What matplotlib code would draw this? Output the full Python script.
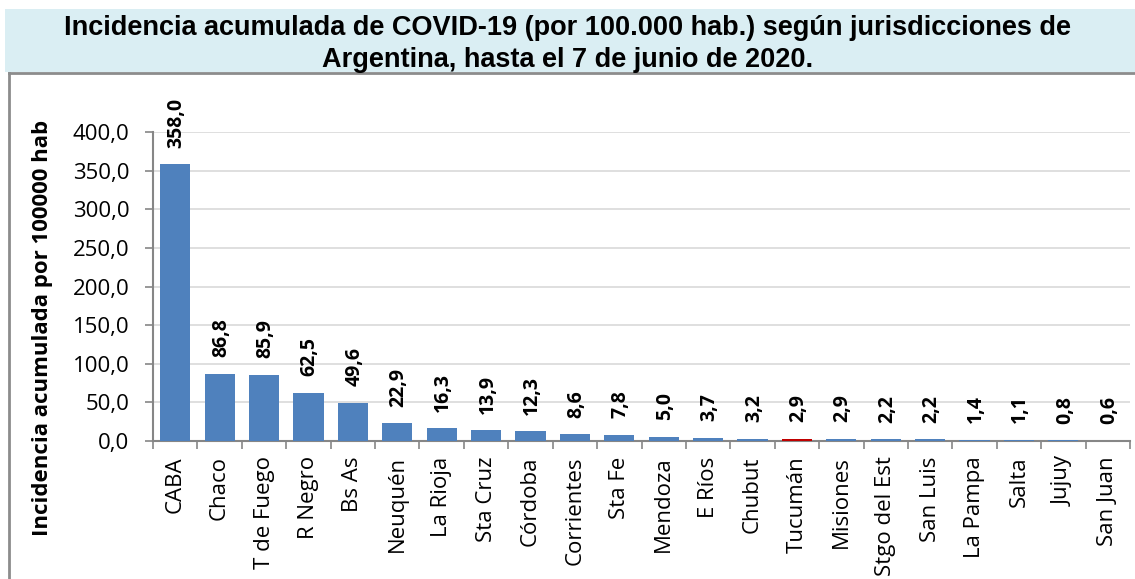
import matplotlib.pyplot as plt
from matplotlib.patches import Rectangle
import numpy as np

categories = ['CABA', 'Chaco', 'T de Fuego', 'R Negro', 'Bs As', 'Neuquén', 'La Rioja',
              'Sta Cruz', 'Córdoba', 'Corrientes', 'Sta Fe', 'Mendoza', 'E Ríos', 'Chubut',
              'Tucumán', 'Misiones', 'Stgo del Est', 'San Luis', 'La Pampa', 'Salta',
              'Jujuy', 'San Juan']
values = [358.0, 86.8, 85.9, 62.5, 49.6, 22.9, 16.3, 13.9, 12.3, 8.6, 7.8, 5.0, 3.7, 3.2,
          2.9, 2.9, 2.2, 2.2, 1.4, 1.1, 0.8, 0.6]
highlight = 'Tucumán'
yticks = [0, 50, 100, 150, 200, 250, 300, 350, 400]

W, H = 1135, 579
fig = plt.figure(figsize=(W / 100, H / 100), dpi=100)
fig.patch.set_facecolor('white')

# banda del titulo
fig.patches.append(Rectangle((5 / W, 1 - 72 / H), 1 - 5 / W, 63 / H, transform=fig.transFigure,
                             facecolor='#daeef3', edgecolor='none', zorder=0))
# marco del grafico
fig.add_artist(plt.Line2D([9 / W, 1], [1 - 73 / H, 1 - 73 / H], transform=fig.transFigure,
                          color='#8c8c8c', lw=2))
fig.add_artist(plt.Line2D([9 / W, 9 / W], [0, 1 - 73 / H], transform=fig.transFigure,
                          color='#8c8c8c', lw=2))

titulo = ['Incidencia acumulada de COVID-19 (por 100.000 hab.) según jurisdicciones de',
          'Argentina, hasta el 7 de junio de 2020.']
fig.text(0.5, 1 - 28 / H, titulo[0], ha='center', va='center', fontsize=19.5,
         fontweight='bold', family='Liberation Sans')
fig.text(0.5, 1 - 60 / H, titulo[1], ha='center', va='center', fontsize=19.5,
         fontweight='bold', family='Liberation Sans')

fuente = 'Open Sans'
ax = fig.add_axes([153 / W, 1 - 441 / H, (1130 - 153) / W, (441 - 132) / H])
x = np.arange(len(categories))
colors = ['#c00000' if c == highlight else '#4f81bd' for c in categories]
ax.bar(x, values, width=0.68, color=colors, zorder=3)

for xi, v in zip(x, values):
    ax.annotate(f'{v:.1f}'.replace('.', ','), (xi, v), xytext=(1, 12), textcoords='offset points',
                rotation=90, ha='center', va='bottom', fontsize=14, fontweight='bold',
                family=fuente)

ax.set_xlim(-0.5, len(categories) - 0.5)
ax.set_ylim(0, 400)
ax.set_yticks(yticks)
ax.set_yticklabels([f'{t:.1f}'.replace('.', ',') for t in yticks], fontsize=16, family=fuente)
ax.yaxis.grid(True, color='#d9d9d9', lw=1.2, zorder=0)
ax.set_xticks(x)
ax.set_xticklabels(categories, rotation=90, fontsize=16, family=fuente)
ax.set_xticks(np.arange(-0.5, len(categories), 1), minor=True)
ax.tick_params(axis='x', which='major', length=0, pad=11)
ax.tick_params(axis='x', which='minor', length=6, color='#868686', width=1.2)
ax.tick_params(axis='y', length=6, color='#868686', width=1.2, pad=11)

for s in ['top', 'right']:
    ax.spines[s].set_visible(False)
for s in ['left', 'bottom']:
    ax.spines[s].set_color('#868686')
    ax.spines[s].set_linewidth(1.5)

fig.text(43 / W, 1 - 328 / H, 'Incidencia acumulada por 100000 hab', rotation=90, ha='center',
         va='center', fontsize=16, fontweight='bold', family=fuente)

fig.savefig('out.png', dpi=100)
